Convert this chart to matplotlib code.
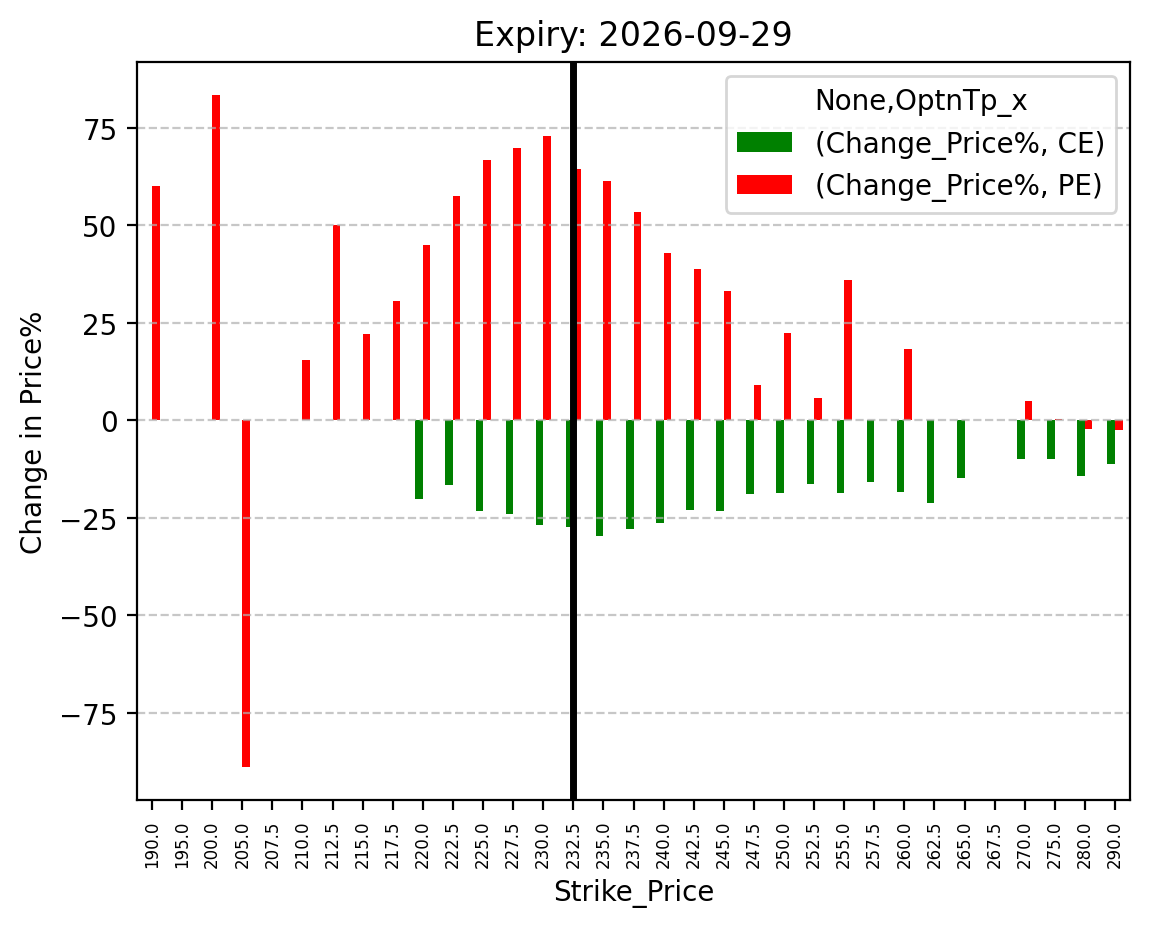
import numpy as np
import pandas as pd
import matplotlib
matplotlib.use("Agg")
import matplotlib.pyplot as plt

nan = np.nan
strikes = [190.0, 195.0, 200.0, 205.0, 207.5, 210.0, 212.5, 215.0, 217.5, 220.0,
           222.5, 225.0, 227.5, 230.0, 232.5, 235.0, 237.5, 240.0, 242.5, 245.0,
           247.5, 250.0, 252.5, 255.0, 257.5, 260.0, 262.5, 265.0, 267.5, 270.0,
           275.0, 280.0, 290.0]
ce_change = [nan, nan, nan, nan, nan, nan, nan, nan, nan, -20.3,
             -16.7, -23.3, -24.1, -26.9, -27.4, -29.7, -27.9, -26.4, -23.1, -23.3,
             -19.0, -18.7, -16.4, -18.7, -15.9, -18.5, -21.3, -14.9, nan, -10.0,
             -10.0, -14.4, -11.3]
pe_change = [60.0, nan, 83.3, -88.9, nan, 15.4, 50.0, 22.1, 30.5, 44.9,
             57.4, 66.7, 69.7, 72.8, 64.4, 61.3, 53.3, 42.8, 38.7, 33.1,
             9.0, 22.3, 5.6, 35.9, nan, 18.2, nan, nan, nan, 4.9,
             0.3, -2.3, -2.6]
atm_strike = 232.5
expiry = "2026-09-29"

cols = pd.MultiIndex.from_tuples([("Change_Price%", "CE"), ("Change_Price%", "PE")],
                                 names=[None, "OptnTp_x"])
df = pd.DataFrame(np.array([ce_change, pe_change]).T,
                  index=pd.Index(strikes, name="Strike_Price"), columns=cols)

fig = plt.figure(figsize=(5.745, 4.645), dpi=200)
ax = fig.add_axes([0.1192, 0.1378, 0.8643, 0.7947])
df.plot(kind="bar", ax=ax, color=["green", "red"])
ax.axvline(strikes.index(atm_strike), color="black", linewidth=2.5)
ax.set_ylim(-97.4, 91.9)
ax.grid(axis="y", linestyle="--", alpha=0.7)
ax.tick_params(axis="x", labelsize=6, rotation=90)
ax.set_title(f"Expiry: {expiry}")
ax.set_xlabel("Strike_Price")
ax.set_ylabel("Change in Price%")
ax.legend(title="None,OptnTp_x", loc="upper right")
fig.savefig("out.png", dpi=200)
